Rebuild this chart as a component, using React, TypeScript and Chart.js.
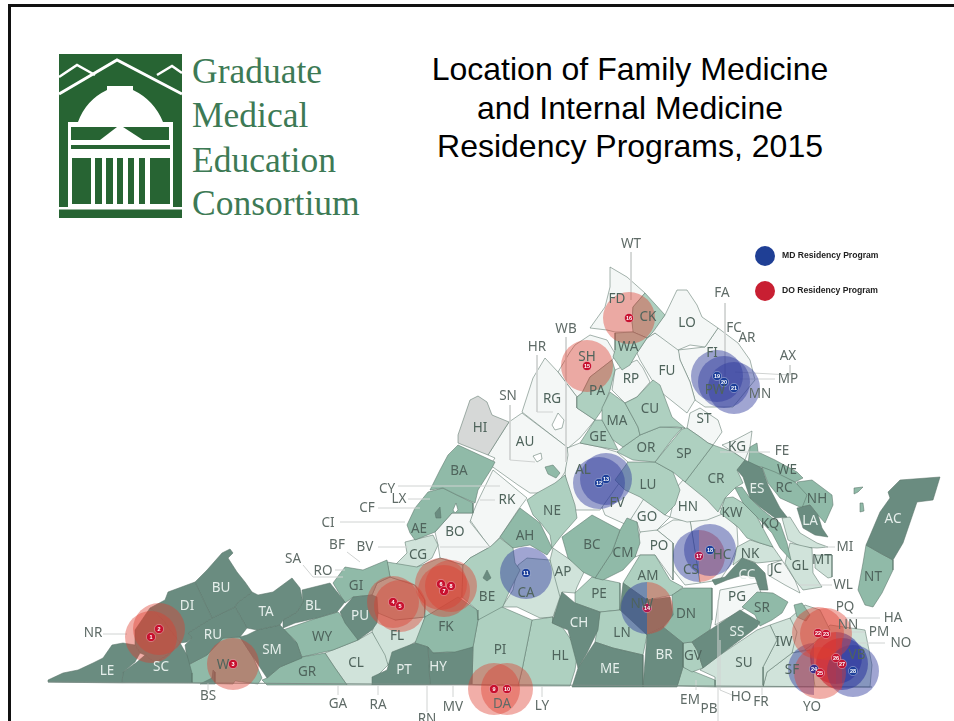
import React, { useEffect, useRef } from "react";
import { Chart, registerables } from "chart.js";

Chart.register(...registerables);

type P = [number, number];
const SHADES: Record<string, string> = {
  D: "#6a8c80", M: "#90baa8", L: "#aed0c0", P: "#d0e3da", W: "#f4f7f6", H: "#d6d8d7", B: "#ffffff",
};

const darkCounties: P[][] = [
  [[48,680],[63,673],[78,670],[93,663],[103,658],[112,645],[123,643],[135,645],[140,653],[135,662],[123,672],[122,683],[48,682]],
  [[122,683],[123,672],[137,662],[145,655],[155,663],[172,652],[180,643],[187,655],[192,673],[192,683]],
  [[135,645],[135,630],[150,608],[163,620],[170,630],[180,643],[172,652],[155,663],[145,655],[140,653]],
  [[150,608],[165,600],[168,592],[195,582],[202,597],[212,618],[188,633],[192,638],[187,642],[180,643],[170,630],[163,620]],
  [[195,582],[207,570],[222,553],[230,549],[233,553],[228,558],[237,572],[245,582],[252,592],[237,603],[235,607],[212,618],[202,597]],
  [[212,618],[235,607],[247,628],[240,637],[223,638],[207,655],[188,665],[185,645],[192,638],[188,633]],
  [[237,603],[252,592],[258,595],[273,592],[292,578],[300,588],[303,602],[297,612],[283,620],[280,625],[257,630],[247,628],[235,607]],
  [[297,612],[303,602],[302,590],[330,583],[345,602],[337,612],[317,618],[295,623],[283,628],[283,620]],
  [[247,635],[257,630],[280,625],[297,643],[302,658],[280,667],[267,678],[253,657],[240,637]],
  [[200,684],[212,678],[213,670],[215,672],[215,684]],
  [[340,612],[353,597],[372,595],[377,597],[378,613],[377,623],[372,630],[358,640],[345,623]],
  [[372,685],[372,677],[387,670],[392,652],[415,643],[428,647],[430,685]],
  [[428,647],[433,653],[455,652],[473,647],[472,685],[430,685]],
  [[552,623],[562,592],[575,603],[600,612],[598,630],[587,653],[578,668],[568,630]],
  [[572,687],[578,668],[595,642],[613,648],[643,655],[643,687]],
  [[643,687],[647,635],[663,627],[683,643],[683,667],[677,687]],
  [[623,583],[647,600],[670,597],[673,615],[663,627],[647,635],[620,610]],
  [[692,642],[740,610],[760,622],[757,627],[720,655],[703,668],[697,650]],
  [[733,568],[742,558],[755,563],[765,573],[768,590],[760,590],[755,577],[743,575],[727,580],[715,585],[712,580],[725,577]],
  [[737,470],[745,460],[762,468],[768,485],[780,508],[787,517],[775,518],[760,507],[750,498],[743,477]],
  [[797,508],[810,505],[818,515],[822,528],[828,537],[815,535],[803,528]],
  [[900,480],[940,477],[933,500],[917,502],[903,543],[893,560],[880,553],[866,545],[880,512],[890,498],[888,492]],
];

const midCounties: P[][] = [
  [[188,665],[207,655],[223,638],[240,637],[253,657],[262,678],[258,684],[235,681],[233,684],[192,683]],
  [[262,680],[267,678],[280,667],[302,657],[325,653],[335,668],[347,685],[267,685]],
  [[283,630],[317,618],[338,612],[357,633],[358,640],[333,650],[302,657],[295,640]],
  [[333,583],[345,567],[363,570],[387,560],[390,577],[377,583],[372,595],[353,597],[345,603]],
  [[458,445],[495,462],[492,468],[478,490],[475,503],[457,495],[443,488],[430,490],[440,470],[448,455]],
  [[407,525],[415,508],[428,492],[443,488],[457,495],[473,503],[473,513],[452,513],[435,532],[415,540],[410,533]],
  [[425,617],[458,597],[477,610],[478,620],[473,647],[463,653],[447,652],[433,653],[428,647],[415,643]],
  [[500,537],[520,508],[540,523],[552,548],[547,555],[530,545],[513,548]],
  [[562,537],[592,515],[620,530],[612,552],[595,578],[583,572],[568,558]],
  [[620,530],[627,518],[637,522],[640,543],[635,557],[623,570],[603,580],[595,578],[612,552]],
  [[748,465],[750,447],[757,443],[758,452],[775,460],[797,472],[803,478],[795,482],[775,472],[762,467]],
  [[762,467],[775,470],[795,482],[807,495],[802,508],[780,498],[768,483]],
  [[797,482],[812,480],[832,495],[833,505],[825,523],[818,515],[810,505],[802,507]],
  [[735,488],[742,487],[750,498],[760,508],[775,520],[780,523],[787,543],[791,560],[780,548],[772,533],[757,517],[743,503]],
  [[672,595],[683,588],[712,588],[712,620],[710,630],[692,642],[683,643],[663,627],[673,615]],
  [[866,545],[880,553],[893,560],[893,570],[882,593],[873,607],[865,605],[858,590],[863,563]],
  [[742,607],[757,592],[773,593],[788,602],[782,613],[772,620],[760,626],[755,615]],
];

const lightCounties: P[][] = [
  [[478,620],[502,607],[532,620],[522,670],[518,686],[472,685],[473,647]],
  [[532,620],[553,617],[553,623],[563,628],[578,650],[575,670],[570,686],[518,686],[522,670]],
  [[595,642],[600,612],[620,610],[647,613],[647,635],[643,655],[613,648]],
  [[575,593],[592,577],[620,583],[620,610],[600,612],[575,603]],
  [[623,583],[640,555],[655,555],[670,580],[683,587],[673,595],[647,600]],
  [[527,500],[537,493],[555,483],[565,475],[575,505],[577,518],[562,535],[552,548],[550,535],[540,522],[533,515]],
  [[463,565],[470,558],[490,547],[500,538],[513,548],[515,563],[520,570],[510,590],[497,620],[478,620],[477,610],[462,597]],
  [[417,567],[440,558],[463,565],[462,597],[425,617],[425,600],[415,585],[390,577],[387,562]],
  [[377,583],[390,577],[415,585],[425,600],[425,617],[395,620],[378,613],[372,595]],
  [[625,403],[637,397],[653,380],[660,385],[672,417],[685,428],[677,427],[660,427],[640,435],[638,427]],
  [[610,392],[625,403],[638,427],[640,435],[623,447],[613,440],[602,420],[602,408]],
  [[623,447],[640,435],[660,427],[682,428],[673,438],[655,462],[633,460],[617,452]],
  [[682,429],[687,428],[700,437],[708,443],[713,445],[685,482],[673,472],[655,462]],
  [[628,462],[655,462],[673,472],[680,490],[675,505],[665,515],[640,497],[625,490],[615,480]],
  [[685,482],[713,445],[733,452],[745,460],[737,470],[743,483],[735,488],[725,498],[718,512],[707,500]],
  [[595,420],[602,420],[613,440],[618,450],[600,447],[580,443]],
  [[582,393],[590,377],[612,360],[615,370],[610,390],[602,410],[595,420],[577,408],[577,397]],
  [[615,350],[613,357],[622,370],[630,365],[637,353],[647,338],[633,332],[615,333]],
  [[645,293],[665,315],[653,332],[647,338],[633,332],[632,322],[633,307]],
  [[683,643],[692,642],[697,650],[703,668],[692,672],[683,667]],
  [[677,686],[683,667],[695,672],[715,680],[715,687]],
  [[725,498],[733,497],[743,503],[757,517],[773,547],[760,543],[747,538],[738,527],[720,513]],
];

const paleCounties: P[][] = [
  [[325,653],[358,640],[372,632],[385,655],[388,665],[375,678],[372,685],[347,685],[335,668]],
  [[377,597],[395,620],[425,617],[418,640],[400,652],[388,665],[372,632],[378,613]],
  [[390,570],[407,553],[405,542],[433,535],[438,545],[432,558],[417,567],[412,575],[395,580]],
  [[502,607],[513,590],[518,565],[527,558],[550,560],[560,597],[553,617],[540,618],[517,607]],
  [[553,548],[585,570],[577,587],[575,593],[562,592],[555,617],[550,560]],
  [[737,547],[750,540],[773,547],[782,560],[767,562],[757,563],[742,558],[733,565]],
  [[790,543],[812,548],[813,573],[822,587],[803,590],[795,580],[785,563]],
  [[815,555],[832,555],[832,577],[828,578],[815,568]],
  [[782,518],[790,517],[800,533],[817,543],[828,547],[817,548],[802,547],[788,540]],
  [[700,670],[720,655],[757,630],[770,625],[777,640],[763,667],[763,687],[715,687],[715,677]],
  [[770,625],[790,618],[797,632],[792,653],[767,672],[763,687],[763,667],[777,640]],
  [[767,672],[792,653],[810,650],[815,687],[763,687]],
  [[790,618],[805,605],[820,610],[830,630],[805,650],[792,653]],
  [[805,650],[830,625],[865,630],[872,665],[870,687],[815,687]],
];

const whiteCounties: P[][] = [
  [[509,422],[522,413],[567,447],[568,455],[565,472],[558,483],[553,493],[530,493],[518,485],[490,465],[495,458],[488,455]],
  [[522,412],[533,378],[545,358],[558,372],[577,397],[577,408],[595,420],[580,438],[568,448]],
  [[558,372],[570,352],[575,345],[590,335],[607,340],[616,355],[612,360],[590,377],[582,393],[577,397]],
  [[610,267],[627,277],[645,293],[633,307],[632,322],[634,332],[615,332],[607,330],[590,328],[605,307],[610,287]],
  [[665,315],[677,290],[687,290],[697,305],[702,317],[718,328],[705,347],[690,345],[678,350],[655,333],[647,338]],
  [[637,353],[647,338],[655,333],[678,347],[680,360],[690,382],[695,400],[687,413],[662,393],[652,380],[640,360]],
  [[615,370],[637,360],[643,368],[650,382],[637,397],[625,403],[612,390]],
  [[678,350],[705,347],[718,328],[738,343],[750,360],[755,380],[733,407],[705,407],[695,400],[690,382],[680,360]],
  [[687,428],[690,413],[700,408],[718,420],[722,432],[713,445],[708,443],[700,437]],
  [[722,445],[735,440],[752,431],[750,447],[745,460],[733,452]],
  [[567,448],[580,443],[600,447],[617,452],[628,462],[625,475],[600,510],[570,510],[565,472]],
  [[598,497],[617,478],[645,497],[627,525],[605,515]],
  [[643,497],[627,525],[637,522],[640,532],[657,530],[670,517],[665,515]],
  [[677,487],[670,517],[687,522],[707,520],[725,513],[710,497],[683,480]],
  [[640,532],[648,528],[657,530],[673,543],[673,570],[673,580],[655,555],[640,555],[635,557]],
  [[657,530],[673,520],[690,520],[700,583],[685,585],[673,570],[673,543]],
  [[690,520],[725,513],[737,527],[738,545],[730,565],[720,580],[700,583]],
  [[435,532],[452,513],[473,513],[470,522],[490,547],[470,558],[463,565],[440,558],[438,545]],
  [[493,470],[527,498],[518,510],[500,537],[490,548],[470,520],[477,503]],
  [[720,590],[757,583],[762,595],[742,610],[715,625]],
  [[768,565],[782,560],[795,580],[800,593],[785,585],[768,575]],
];

const greyCounties: P[][] = [
  [[458,435],[470,400],[478,396],[487,402],[492,415],[509,422],[505,428],[488,455],[458,443]],
];

const waterDark: P[][] = [
  [[435,513],[440,507],[441,518],[436,518]],
  [[483,578],[487,570],[491,578],[487,581]],
];
const waterMid: P[][] = [
  [[545,467],[553,465],[560,473],[556,478],[548,474]],
  [[854,488],[863,487],[858,492],[854,494]],
  [[860,503],[863,503],[864,511],[860,512]],
  [[794,605],[802,603],[810,615],[806,621],[797,617]],
];
const waterWhite: P[][] = [
  [[552,425],[558,413],[564,420],[562,428],[555,430]],
  [[533,456],[541,453],[542,459],[537,462]],
  [[453,510],[456,503],[458,510],[455,513]],
];

const leaderLines: P[][] = [
  [[631,252],[631,300]], [[566,337],[566,462]], [[537,355],[537,412],[553,412]],
  [[510,405],[510,460],[535,462]], [[725,303],[725,385]], [[790,365],[790,375],[735,372]],
  [[775,379],[740,379]], [[770,452],[720,452]], [[835,547],[825,547]], [[832,585],[800,585]],
  [[880,618],[845,618]], [[865,632],[850,632]], [[885,643],[850,643]],
  [[732,695],[720,690],[720,640]], [[718,721],[718,600]], [[696,690],[696,680]],
  [[762,695],[762,685]], [[208,690],[208,683]], [[338,695],[338,685]], [[378,695],[378,685]],
  [[427,712],[427,685]], [[453,697],[453,685]], [[542,697],[542,686]], [[103,634],[127,634]],
  [[340,522],[405,522]], [[378,508],[420,508]], [[408,499],[430,499]], [[398,486],[500,486]],
  [[378,547],[408,547]], [[335,570],[345,570]], [[303,565],[313,577],[343,577]], [[347,552],[360,562]],
  [[440,547],[490,547]], [[495,500],[480,500]],
];
const stateLine: P[] = [[48,682],[872,687]];

const outsideLabels: [string, number, number][] = [
  ["WT",631,244],["WB",566,329],["HR",537,347],["SN",508,396],["FA",722,293],["FC",734,328],["AR",747,338],
  ["AX",788,356],["MP",788,379],["MN",760,394],["FE",782,451],["MI",845,547],["WL",843,585],["PQ",845,607],
  ["HA",893,618],["NN",848,625],["PM",879,632],["NO",901,643],["YO",812,707],["FR",761,702],["HO",741,697],
  ["PB",709,709],["EM",690,700],["DA",502,704],["LY",542,706],["MV",453,707],["RN",427,719],["RA",378,705],
  ["GA",338,704],["BS",208,696],["NR",93,633],["SA",293,559],["RO",323,571],["BF",337,545],["BV",365,547],
  ["CI",328,523],["CF",367,508],["CY",387,489],["LX",399,499],
];
const insideLabels: [string, number, number][] = [
  ["AE",419,529],["BO",455,532],["CG",418,555],["GI",356,586],["WY",322,637],["GR",307,672],["CL",356,663],
  ["FL",397,636],["FK",446,627],["RK",507,500],["NE",552,511],["AH",525,536],["CA",526,593],["AP",563,572],
  ["BE",487,597],["PE",599,594],["BC",592,545],["CM",623,553],["PO",659,546],["GO",647,517],["LU",648,485],
  ["HN",688,507],["FV",617,503],["AM",648,576],["NW",642,604],["LN",622,633],["PI",500,650],["HL",560,656],
  ["DN",686,614],["GV",693,656],["SU",744,663],["PG",737,597],["SR",762,608],["CS",691,570],["HC",722,555],
  ["NK",750,554],["JC",776,569],["GL",800,566],["MT",822,560],["KW",732,513],["KQ",770,524],["RC",784,488],
  ["NH",817,499],["VB",857,655],["IW",784,642],["SF",792,670],["NT",873,577],["RG",552,399],["HI",480,428],
  ["AU",525,442],["BA",459,471],["PA",597,391],["MA",617,421],["CU",650,409],["RP",631,379],["FU",667,371],
  ["GE",598,437],["OR",646,448],["SP",684,454],["CR",716,479],["KG",737,447],["ST",704,419],["AL",583,470],
  ["SH",587,357],["WA",628,347],["FD",617,299],["CK",648,317],["LO",687,323],["FI",712,353],["PW",715,390],
  ["WE",787,470],["W",223,665],
];
const lightLabels: [string, number, number][] = [
  ["LE",107,671],["SC",161,667],["DI",187,606],["BU",221,588],["RU",213,635],["TA",266,612],["BL",313,606],
  ["SM",272,650],["PU",360,616],["PT",404,670],["HY",438,667],["CH",579,623],["ME",610,669],["BR",664,655],
  ["SS",737,632],["CC",747,575],["ES",757,489],["LA",810,521],["AC",893,519],
];

// program markers: label, x, y
const doPrograms: [string, number, number][] = [
  ["1",151,637],["2",159,629],["3",233,664],["4",393,602],["5",400,606],["6",441,584],["7",444,591],["8",451,586],
  ["9",494,689],["10",507,689],["15",587,366],["16",629,318],["22",818,633],["23",826,634],["25",820,673],
];
const mdPrograms: [string, number, number][] = [
  ["11",526,573],["12",599,483],["13",606,479],["18",710,550],["19",717,376],["20",724,382],["21",734,388],["28",853,671],
];
const blueRedPrograms: [string, number, number][] = [["14",647,608],["17",699,556]];
const blueOnlyHalf: [string, number, number][] = [["24",814,669]];
const redBluePrograms: [string, number, number][] = [["26",836,658],["27",842,664]];
const legendItems: [string, number, number, string][] = [
  ["MD Residency Program",765,256,"#1f3f95"],
  ["DO Residency Program",765,291,"#c81f32"],
];
const titleLines = ["Location of Family Medicine", "and Internal Medicine", "Residency Programs, 2015"];
const logoLines = ["Graduate", "Medical", "Education", "Consortium"];

const RED = "rgba(222,62,48,0.42)";
const DEEP_RED = "rgba(195,20,50,0.6)";
const BLUE = "rgba(45,55,155,0.45)";
const DEEP_BLUE = "rgba(40,50,160,0.55)";
const HALO_R = 26;

function halfDisc(left: string | null, right: string | null): HTMLCanvasElement {
  const c = document.createElement("canvas");
  const s = HALO_R * 2 + 2;
  c.width = s; c.height = s;
  const g = c.getContext("2d")!;
  const m = s / 2;
  if (left) { g.fillStyle = left; g.beginPath(); g.arc(m, m, HALO_R, Math.PI / 2, Math.PI * 1.5); g.closePath(); g.fill(); }
  if (right) { g.fillStyle = right; g.beginPath(); g.arc(m, m, HALO_R, -Math.PI / 2, Math.PI / 2); g.closePath(); g.fill(); }
  return c;
}

function polyDatasets(list: P[][], shade: string, order: number) {
  return list.map((pts) => ({
    type: "line" as const,
    data: [...pts, pts[0]].map(([x, y]) => ({ x, y })),
    borderColor: "rgba(90,115,105,0.6)",
    borderWidth: 0.9,
    backgroundColor: SHADES[shade],
    fill: "shape",
    pointRadius: 0,
    tension: 0,
    order,
  }));
}

function haloDataset(items: [string, number, number][], opts: any) {
  return {
    type: "bubble" as const,
    data: items.map(([, x, y]) => ({ x, y, r: HALO_R })),
    borderWidth: 0,
    order: 20,
    ...opts,
  };
}

function dotDataset(items: [string, number, number][], color: string) {
  return {
    type: "bubble" as const,
    data: items.map(([, x, y]) => ({ x, y, r: 4.6 })),
    backgroundColor: color,
    borderColor: "rgba(255,255,255,0.55)",
    borderWidth: 0.6,
    order: 5,
  };
}

const textPlugin = {
  id: "mapText",
  afterDatasetsDraw(chart: any) {
    const { ctx, scales } = chart;
    const px = (x: number) => scales.x.getPixelForValue(x);
    const py = (y: number) => scales.y.getPixelForValue(y);
    ctx.save();
    ctx.textAlign = "center";
    ctx.textBaseline = "middle";
    ctx.font = "13.5px 'Noto Sans'";
    ctx.fillStyle = "#5f6b67";
    outsideLabels.forEach(([t, x, y]) => ctx.fillText(t, px(x), py(y)));
    ctx.fillStyle = "#4f645c";
    insideLabels.forEach(([t, x, y]) => ctx.fillText(t, px(x), py(y)));
    ctx.fillStyle = "#e6efeb";
    lightLabels.forEach(([t, x, y]) => ctx.fillText(t, px(x), py(y)));
    ctx.font = "bold 5.5px 'Liberation Sans'";
    ctx.fillStyle = "#ffffff";
    [...doPrograms, ...mdPrograms, ...blueRedPrograms, ...blueOnlyHalf, ...redBluePrograms].forEach(([t, x, y]) =>
      ctx.fillText(t, px(x), py(y))
    );
    ctx.textAlign = "left";
    ctx.font = "bold 8.6px 'Liberation Sans'";
    ctx.fillStyle = "#222";
    legendItems.forEach(([t, x, y]) => ctx.fillText(t, px(x) + 17, py(y)));
    ctx.restore();
  },
};

function Logo() {
  const g = "#276433";
  return (
    <svg width={400} height={240} style={{ position: "absolute", left: 0, top: 0 }}>
      <rect x={59} y={54} width={123} height={164} fill={g} />
      <polyline points="59,94 117,60 182,94" fill="none" stroke="#fff" strokeWidth={3} />
      <polyline points="59,77 77,65 95,75" fill="none" stroke="#fff" strokeWidth={2.5} />
      <polyline points="157,75 172,66 182,73" fill="none" stroke="#fff" strokeWidth={2.5} />
      <path d="M78,122 Q86,100 107,90 L107,86 L133,86 L133,90 Q154,100 163,122 Z" fill="#fff" />
      <rect x={68} y={122} width={105} height={85} fill="#fff" />
      <polygon points="71,127 117,127 100,140 71,140" fill={g} />
      <polygon points="123,127 169,127 169,140 143,140" fill={g} />
      <rect x={71} y={145} width={99} height={4} fill={g} />
      {[[72, 19], [95, 7], [106, 7], [117, 6], [128, 6], [139, 6], [150, 20]].map(([x, w]) => (
        <rect key={x} x={x} y={158} width={w} height={46} fill={g} />
      ))}
      <rect x={59} y={207} width={123} height={2.5} fill="#fff" />
      {logoLines.map((t, i) => (
        <text key={t} x={192} y={[83, 127, 172, 215][i]} fontFamily="'Liberation Serif'" fontSize={35.5} fill="#3d7a55">
          {t}
        </text>
      ))}
    </svg>
  );
}

export default function App() {
  const ref = useRef<HTMLCanvasElement>(null);
  useEffect(() => {
    const hiddenAxis = { display: false, type: "linear" as const };
    const datasets: any[] = [
      ...polyDatasets(greyCounties, "H", 100),
      ...polyDatasets(whiteCounties, "W", 100),
      ...polyDatasets(paleCounties, "P", 99),
      ...polyDatasets(lightCounties, "L", 98),
      ...polyDatasets(midCounties, "M", 97),
      ...polyDatasets(darkCounties, "D", 96),
      ...polyDatasets(waterMid, "M", 90),
      ...polyDatasets(waterDark, "D", 90),
      ...polyDatasets(waterWhite, "B", 90),
      ...leaderLines.map((pts) => ({
        type: "line", data: pts.map(([x, y]) => ({ x, y })), borderColor: "#d0d3d2", borderWidth: 1,
        pointRadius: 0, fill: false, order: 60,
      })),
      {
        type: "line", data: stateLine.map(([x, y]) => ({ x, y })), borderColor: "#7d8f88", borderWidth: 1.2,
        pointRadius: 0, fill: false, order: 30,
      },
      haloDataset(doPrograms, { backgroundColor: RED }),
      haloDataset(mdPrograms, { backgroundColor: BLUE }),
      haloDataset(blueRedPrograms, { pointStyle: halfDisc(BLUE, RED) }),
      haloDataset(blueOnlyHalf, { pointStyle: halfDisc(BLUE, null) }),
      haloDataset(redBluePrograms, { pointStyle: halfDisc(DEEP_RED, DEEP_BLUE) }),
      dotDataset(doPrograms, "#c8102e"),
      dotDataset(mdPrograms, "#1c3f9a"),
      dotDataset(blueRedPrograms, "#b01a50"),
      dotDataset(blueOnlyHalf, "#3a2f8a"),
      dotDataset(redBluePrograms, "rgba(200,16,46,0.9)"),
      ...legendItems.map(([, x, y, color]) => ({
        type: "bubble", data: [{ x, y, r: 10 }], backgroundColor: color, borderWidth: 0, order: 4,
      })),
    ];
    const chart = new Chart(ref.current!, {
      type: "scatter",
      data: { datasets },
      options: {
        animation: false,
        responsive: false,
        events: [],
        layout: { padding: 0, autoPadding: false },
        scales: {
          x: { ...hiddenAxis, min: 0, max: 954 },
          y: { ...hiddenAxis, min: 0, max: 721, reverse: true },
        },
        plugins: { legend: { display: false }, tooltip: { enabled: false }, title: { display: false } },
      } as any,
      plugins: [textPlugin],
    });
    return () => chart.destroy();
  }, []);

  return (
    <div style={{ position: "fixed", left: 0, top: 0, width: 954, height: 721, background: "#fff", overflow: "hidden" }}>
      <div style={{ position: "absolute", left: 8, top: 4, width: 946, height: 3, background: "#111" }} />
      <div style={{ position: "absolute", left: 8, top: 4, width: 3, height: 717, background: "#111" }} />
      <Logo />
      <div
        style={{
          position: "absolute", left: 380, top: 50, width: 500, textAlign: "center",
          fontFamily: "'Liberation Sans'", fontSize: 32, lineHeight: "38.5px", color: "#000",
        }}
      >
        {titleLines.map((t) => (
          <div key={t}>{t}</div>
        ))}
      </div>
      <canvas ref={ref} width={954} height={721} style={{ position: "absolute", left: 0, top: 0, display: "block", filter: "blur(0.4px)" }} />
    </div>
  );
}
